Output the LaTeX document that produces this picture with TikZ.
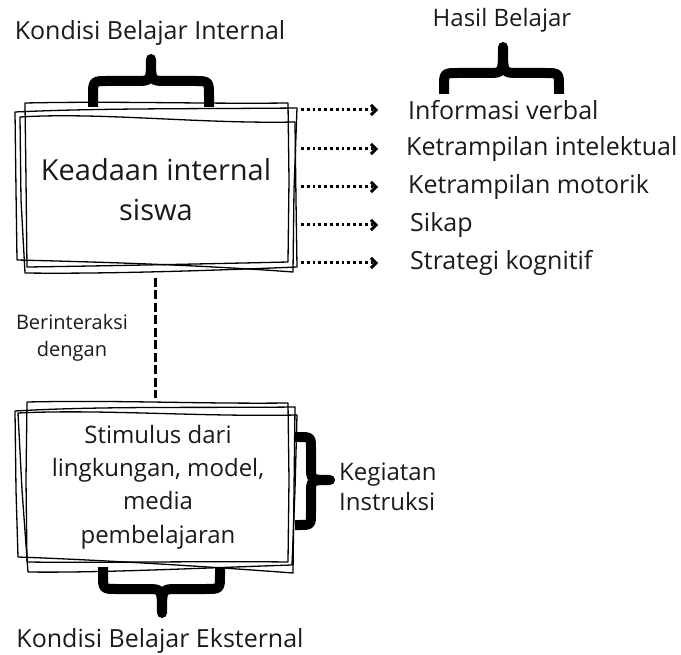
\documentclass[tikz,border=0pt]{standalone}
\usepackage{fontspec}
\setmainfont{Open Sans}
\usetikzlibrary{arrows.meta}
\definecolor{ink}{HTML}{1A1A1A}
\tikzset{
  sketch/.style={draw=black, line width=1.3pt, line join=round},
  brace/.style={draw=black, line width=10pt, line cap=butt, line join=round},
  dotarrow/.style={draw=black, line width=3pt, dash pattern=on 2.8pt off 3pt,
     -{Straight Barb[length=5pt,width=10pt,line width=3pt]}},
  dashline/.style={draw=black, line width=3pt, dash pattern=on 9pt off 3.5pt},
  lbl/.style={text=ink, font=\fontsize{25}{30}\selectfont, inner sep=2pt},
  boxtext/.style={text=ink, align=center},
}
\begin{document}
\begin{tikzpicture}[x=1pt,y=-1pt]
\useasboundingbox (0,0) rectangle (681,655);

% ---------- box 1 ----------
\node[boxtext, font=\fontsize{29}{40}\selectfont, minimum width=270pt, minimum height=160pt] (box1) at (156,190) {Keadaan internal\\siswa};
\path[sketch] (25,103) .. controls (120,101) and (200,104) .. (288,103) -- (289,180) -- (288,262) .. controls (200,264) and (100,266) .. (27,267) -- (26,180) -- cycle;
\path[sketch] (15,112) .. controls (100,108) and (200,109) .. (297,108) -- (294,190) -- (293,272) .. controls (200,265) and (100,262) .. (17,260) -- (16,190) -- cycle;
\path[sketch] (20,117) .. controls (100,112) and (200,124) .. (295,122) -- (296,200) -- (297,267) .. controls (200,271) and (100,274) .. (25,273) -- (21,200) -- cycle;

% ---------- box 2 ----------
\node[boxtext, font=\fontsize{24}{33.3}\selectfont, minimum width=270pt, minimum height=155pt] (box2) at (158,487) {Stimulus dari\\lingkungan, model,\\media\\pembelajaran};
\path[sketch] (27,402) .. controls (120,400) and (200,404) .. (288,403) -- (289,480) -- (288,562) .. controls (200,561) and (100,563) .. (27,562) -- (26,480) -- cycle;
\path[sketch] (15,411) .. controls (100,406) and (200,408) .. (295,407) -- (294,490) -- (293,573) .. controls (200,566) and (100,560) .. (18,557) -- (16,490) -- cycle;
\path[sketch] (18,413) .. controls (100,409) and (200,417) .. (297,415) -- (295,490) -- (292,565) .. controls (200,568) and (100,573) .. (28,572) -- (22,490) -- cycle;

% ---------- top labels and braces ----------
\node[lbl] (kbi) at (150,33) {Kondisi Belajar Internal};
\node[lbl, font=\fontsize{24}{28}\selectfont] (hb) at (502,20) {Hasil Belajar};

\path[brace] (93,107) -- (93,96) .. controls (93,81) .. (108,81) -- (136,81) .. controls (151,81) .. (151,59)
  .. controls (151,81) .. (166,81) -- (194,81) .. controls (209,81) .. (209,96) -- (209,107);
\path[brace] (444,94) -- (444,87) .. controls (444,73) .. (458,73) -- (488,73) .. controls (503,73) .. (503,47)
  .. controls (503,73) .. (518,73) -- (545,73) .. controls (559,73) .. (559,87) -- (559,94);

% ---------- results ----------
\node[lbl, anchor=west] (r1) at (406,110) {Informasi verbal};
\node[lbl, anchor=west] (r2) at (404,149) {Ketrampilan intelektual};
\node[lbl, anchor=west] (r3) at (406,187) {Ketrampilan motorik};
\node[lbl, anchor=west] (r4) at (408,225) {Sikap};
\node[lbl, anchor=west] (r5) at (408,263) {Strategi kognitif};

\coordinate (s1) at (301,110);
\coordinate (s2) at (301,149);
\coordinate (s3) at (301,187);
\coordinate (s4) at (301,225);
\coordinate (s5) at (301,263);
\draw[dotarrow, shorten >=28pt] (s1) -- (r1.west |- s1);
\draw[dotarrow, shorten >=26pt] (s2) -- (r2.west |- s2);
\draw[dotarrow, shorten >=28pt] (s3) -- (r3.west |- s3);
\draw[dotarrow, shorten >=30pt] (s4) -- (r4.west |- s4);
\draw[dotarrow, shorten >=30pt] (s5) -- (r5.west |- s5);

% ---------- interaction ----------
\coordinate (d1) at (155,278);
\coordinate (d2) at (155,398);
\draw[dashline] (d1) -- (d2);
\node[lbl, align=center, font=\fontsize{20}{27}\selectfont] (ber) at (72,338) {Berinteraksi\\dengan};

% ---------- right brace ----------
\path[brace] (295,437) -- (299,437) .. controls (311,437) .. (311,449) -- (311,467) .. controls (311,480) .. (330,480)
  .. controls (311,480) .. (311,493) -- (311,513) .. controls (311,525) .. (299,525) -- (295,525);
\node[lbl, anchor=west, align=left, font=\fontsize{24}{30}\selectfont] (keg) at (337,487) {Kegiatan\\Instruksi};

% ---------- bottom brace ----------
\path[brace] (103,567) -- (103,575) .. controls (103,589) .. (117,589) -- (147,589) .. controls (162,589) .. (162,613)
  .. controls (162,589) .. (177,589) -- (206,589) .. controls (220,589) .. (220,575) -- (220,567);
\node[lbl] (kbe) at (160,641) {Kondisi Belajar Eksternal};
\end{tikzpicture}
\end{document}
